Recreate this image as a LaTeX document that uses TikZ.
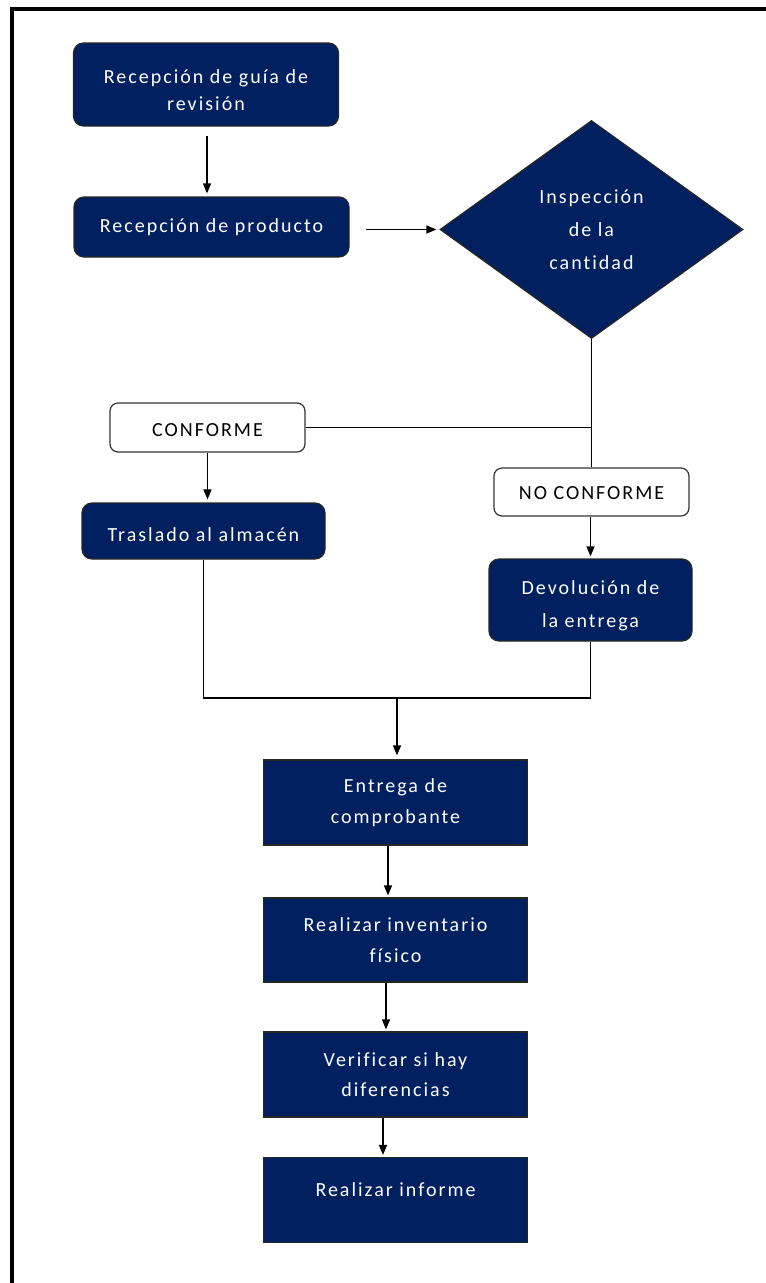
\documentclass[tikz,border=0pt]{standalone}
\usepackage{fontspec}
\setmainfont{Carlito}[LetterSpace=10,Ligatures=NoCommon]
\usetikzlibrary{shapes.geometric,arrows.meta}
\definecolor{navy}{RGB}{0,32,96}
\begin{document}
\begin{tikzpicture}[x=1pt,y=-1pt,
  font=\fontsize{20}{31}\selectfont,
  stepbox/.style={draw=black!85,line width=1.2pt,fill=navy,text=white,align=center,inner sep=0pt},
  roundbox/.style={stepbox,rounded corners=10pt},
  boxtext/.style={text=white,align=center,inner sep=0pt},
  tagbox/.style={draw=black!80,line width=1.2pt,fill=white,text=black,rounded corners=8pt,inner sep=0pt},
  link/.style={line width=1.4pt,black},
  arr/.style={link,-{Triangle[length=10pt,width=8pt]}}
]
\useasboundingbox (0,0) rectangle (766,1283);
% page frame (top and left rules)
\draw[line width=4pt] (766,8.7) -- (12,8.7) -- (12,1283);

% upper part
\node[roundbox,minimum width=265pt,minimum height=83pt] (b1) at (206,84.5) {};
\node[boxtext,font=\fontsize{20}{27}\selectfont] (b1t) at ([yshift=-6pt]b1.center) {Recepción de guía de\\revisión};
\node[roundbox,minimum width=275pt,minimum height=60pt] (b2) at (211.5,227) {Recepción de producto};
\node[diamond,draw=black!85,line width=1.2pt,fill=navy,text=white,align=center,inner sep=0pt,
      minimum width=303pt,minimum height=218pt,font=\fontsize{20}{33}\selectfont] (dia) at (591.5,229.5) {Inspección\\de la\\cantidad};

% branches
\node[tagbox,minimum width=195pt,minimum height=49pt,text height=18pt,text depth=0pt] (c1) at (207.5,427.5) {CONFORME};
\node[tagbox,minimum width=195pt,minimum height=48pt,text height=15pt,text depth=0pt] (nc) at (591.5,492) {NO CONFORME};
\node[roundbox,minimum width=243pt,minimum height=56pt,text height=20pt,text depth=0pt] (tr) at (203.5,531) {Traslado al almacén};
\node[roundbox,minimum width=203pt,minimum height=82pt] (dv) at (590.5,600) {};
\node[boxtext,font=\fontsize{20}{33}\selectfont] (dvt) at ([yshift=-6pt]dv.center) {Devolución de\\la entrega};

% lower column
\node[stepbox,minimum width=264pt,minimum height=85pt] (e1) at (395.5,802.5) {Entrega de\\comprobante};
\node[stepbox,minimum width=264pt,minimum height=84pt] (e2) at (395.5,940) {Realizar inventario\\físico};
\node[stepbox,minimum width=264pt,minimum height=85pt,font=\fontsize{20}{30}\selectfont] (e3) at (395.5,1074.5) {Verificar si hay\\diferencias};
\node[stepbox,minimum width=264pt,minimum height=85pt,text height=13pt,text depth=20pt] (e4) at (395.5,1200) {Realizar informe};

\coordinate (m) at (397,698);

% connectors
\draw[arr,shorten <=9pt,shorten >=3pt] (b1.south -| 207,0) -- (b2.north -| 207,0);
\draw[arr,shorten <=16pt,shorten >=3pt] (b2.east |- dia.west) -- (dia.west);
\draw[link] (dia.south) -- (nc.north -| dia.south);
\draw[link] (c1.east) -- (c1.east -| dia.south);
\draw[arr,shorten >=3pt] (c1.south) -- (c1.south |- tr.north);
\draw[arr,shorten >=2pt] (nc.south -| dv.north) -- (dv.north);
\draw[link] (tr.south) |- (dv.south |- m) -- (dv.south);
\draw[arr,shorten >=4pt] (m) -- (m |- e1.north);
\draw[arr,shorten >=2pt] ([xshift=-7.5pt]e1.south) -- ([xshift=-7.5pt]e2.north);
\draw[arr,shorten >=2pt] ([xshift=-9.5pt]e2.south) -- ([xshift=-9.5pt]e3.north);
\draw[arr,shorten >=2pt] ([xshift=-12.5pt]e3.south) -- ([xshift=-12.5pt]e4.north);
\end{tikzpicture}
\end{document}
